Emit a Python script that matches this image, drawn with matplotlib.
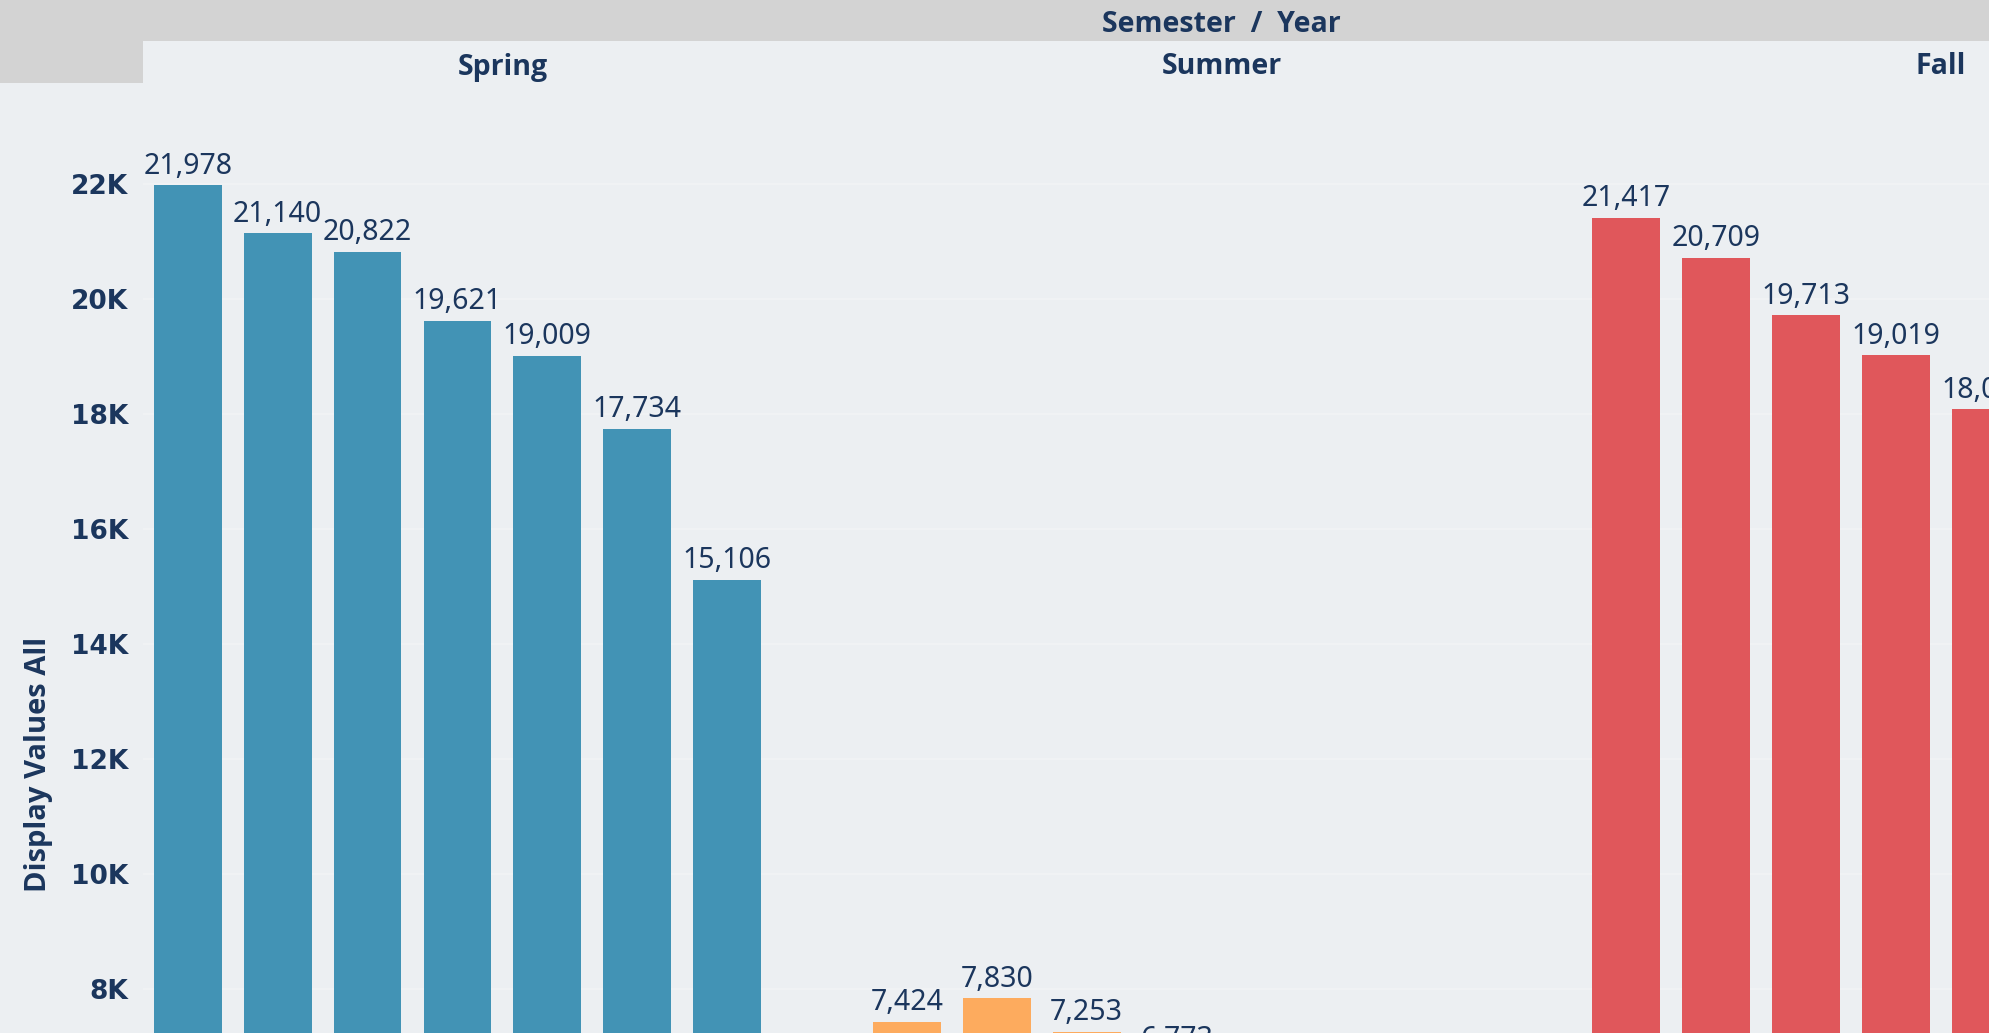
import matplotlib
matplotlib.use("Agg")
import matplotlib.pyplot as plt
from matplotlib.patches import Rectangle
from matplotlib.ticker import FuncFormatter

# ---- data ----
semesters = ["Spring", "Summer", "Fall"]
slots_per_semester = 8
spring_values = [21978, 21140, 20822, 19621, 19009, 17734, 15106]
summer_values = [7424, 7830, 7253, 6773]
fall_values = [21417, 20709, 19713, 19019, 18080]
series = [spring_values, summer_values, fall_values]
colors = ["#4293B5", "#FDAB5E", "#E0575B"]
y_ticks = list(range(8000, 24000, 2000))
header_title = "Semester  /  Year"
y_label = "Display Values All"

W, H = 1990, 1033
DPI = 100
BG = "#ECEFF2"
HEAD = "#D3D3D3"
TXT = "#1B365D"
HFONT = ["Open Sans", "DejaVu Sans"]

fig = plt.figure(figsize=(W / DPI, H / DPI), dpi=DPI, facecolor=BG)

# pixel geometry
ax_left_px = 142.8
slot_px = 89.9
n_slots = slots_per_semester * len(semesters)
y0_px = 1448.4   # y pixel of value 0
top_px = 83.0
px_per_unit = 0.05747
ymax = (y0_px - top_px) / px_per_unit

ax = fig.add_axes([ax_left_px / W, 1 - y0_px / H,
                   n_slots * slot_px / W, (y0_px - top_px) / H])
ax.set_facecolor(BG)
ax.set_xlim(0, n_slots)
ax.set_ylim(0, ymax)
for s in ax.spines.values():
    s.set_visible(False)
ax.set_xticks([])
ax.set_yticks(y_ticks)
ax.yaxis.set_major_formatter(FuncFormatter(lambda v, p: f"{v/1000:.0f}K"))
ax.tick_params(axis="y", length=0, pad=10.5, labelsize=19, labelcolor=TXT)
for lab in ax.get_yticklabels():
    lab.set_fontweight("bold")
    lab.set_family("DejaVu Sans")
ax.grid(axis="y", color="#F1F3F5", linewidth=1.2)
ax.set_axisbelow(True)

for i, vals in enumerate(series):
    xs = [i * slots_per_semester + j + 0.5 for j in range(len(vals))]
    ax.bar(xs, vals, width=0.755, color=colors[i], edgecolor="none", zorder=2)
    for x, v in zip(xs, vals):
        ax.annotate(f"{v:,}", (x, v), xytext=(0, 8.5), textcoords="offset points",
                    ha="center", va="baseline", fontsize=20.5, color=TXT,
                    family="Noto Sans", zorder=3)

# header bands
fig.patches.append(Rectangle((0, 1 - 41 / H), 1, 41 / H, transform=fig.transFigure,
                             facecolor=HEAD, edgecolor="none", zorder=0))
fig.patches.append(Rectangle((0, 1 - 83 / H), ax_left_px / W, 83 / H,
                             transform=fig.transFigure, facecolor=HEAD,
                             edgecolor="none", zorder=0))

center_px = ax_left_px + n_slots * slot_px / 2
fig.text(center_px / W, 1 - 25 / H, header_title, ha="center", va="center",
         fontsize=20.5, color=TXT, family=HFONT, fontweight="bold")
for i, name in enumerate(semesters):
    cx = ax_left_px + (i + 0.5) * slots_per_semester * slot_px
    fig.text(cx / W, 1 - 67 / H, name, ha="center", va="center",
             fontsize=20.5, color=TXT, family=HFONT, fontweight="bold")

fig.text(39 / W, 1 - 764 / H, y_label, rotation=90, ha="center", va="center",
         fontsize=21, color=TXT, family=HFONT, fontweight="bold")

fig.savefig("out.png", dpi=DPI, facecolor=BG)
